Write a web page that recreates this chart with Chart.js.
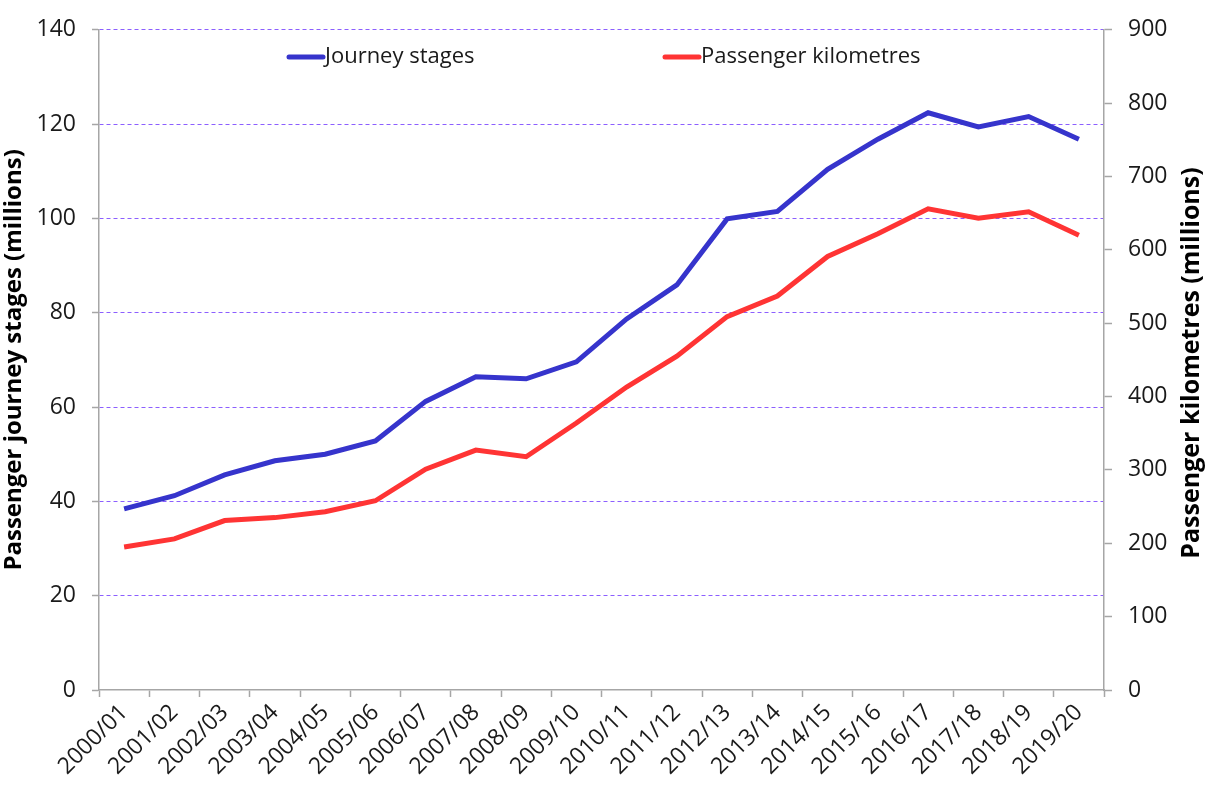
<!DOCTYPE html>
<html>
<head>
<meta charset="utf-8">
<script src="https://cdn.jsdelivr.net/npm/chart.js@4/dist/chart.umd.min.js"></script>
<style>
  html, body { margin: 0; padding: 0; background: #fff; }
  #wrap { width: 1205px; height: 785px; }
</style>
</head>
<body>
<div id="wrap"><canvas id="myChart" width="1205" height="785"></canvas></div>
<script>
const years = [
  '2000/01', '2001/02', '2002/03', '2003/04', '2004/05', '2005/06', '2006/07',
  '2007/08', '2008/09', '2009/10', '2010/11', '2011/12', '2012/13', '2013/14',
  '2014/15', '2015/16', '2016/17', '2017/18', '2018/19', '2019/20',
];

// passenger journey stages, millions (left axis)
const journeyStages = [
  38.4, 41.2, 45.6, 48.6, 50.0, 52.8, 61.2, 66.4, 66.0, 69.6,
  78.7, 85.9, 99.9, 101.5, 110.4, 116.8, 122.4, 119.4, 121.6, 116.8,
];

// passenger kilometres, millions (right axis)
const passengerKm = [
  195, 206, 231, 235, 243, 258, 301, 327, 318, 364,
  413, 455, 509, 537, 591, 622, 656, 643, 652, 620,
];

const leftTitle = 'Passenger journey stages (millions)';
const rightTitle = 'Passenger kilometres (millions)';

const fontFamily = '"Open Sans", "Noto Sans", sans-serif';
const gridPurple = 'rgb(140, 95, 255)';
const axisGrey = '#a6a6a6';
const textColor = '#1a1a1a';

// legend and right-hand title are drawn here so they sit where they should
const extras = {
  id: 'extras',
  afterDraw(chart) {
    const ctx = chart.ctx;
    ctx.save();

    // legend inside the plot, near the top
    ctx.font = '22px ' + fontFamily;
    ctx.textBaseline = 'middle';
    ctx.textAlign = 'left';
    const starts = [289, 665];
    chart.data.datasets.forEach((ds, i) => {
      const x = starts[i];
      const y = 57;
      ctx.strokeStyle = ds.borderColor;
      ctx.lineWidth = 5;
      ctx.lineCap = 'round';
      ctx.beginPath();
      ctx.moveTo(x, y);
      ctx.lineTo(x + 34, y);
      ctx.stroke();
      ctx.fillStyle = textColor;
      ctx.fillText(ds.label, x + 36, y);
    });

    // right axis title, reading bottom to top like the left one
    ctx.font = 'bold 25px ' + fontFamily;
    ctx.textAlign = 'center';
    ctx.textBaseline = 'middle';
    ctx.fillStyle = '#000';
    ctx.translate(1192, 363);
    ctx.rotate(-Math.PI / 2);
    ctx.fillText(rightTitle, 0, 0);
    ctx.restore();
  },
};

const config = {
  type: 'line',
  data: {
    labels: years,
    datasets: [
      {
        label: 'Journey stages',
        data: journeyStages,
        borderColor: 'rgb(54, 52, 204)',
        backgroundColor: 'rgb(54, 52, 204)',
        borderWidth: 5,
        pointRadius: 0,
        tension: 0,
        yAxisID: 'y',
      },
      {
        label: 'Passenger kilometres',
        data: passengerKm,
        borderColor: 'rgb(255, 52, 52)',
        backgroundColor: 'rgb(255, 52, 52)',
        borderWidth: 5,
        pointRadius: 0,
        tension: 0,
        yAxisID: 'y1',
      },
    ],
  },
  options: {
    responsive: false,
    animation: false,
    layout: { padding: { top: 18, left: 0, right: 0, bottom: 0 } },
    plugins: {
      legend: { display: false },
      tooltip: { enabled: false },
    },
    scales: {
      x: {
        offset: true,
        grid: {
          offset: true,
          drawOnChartArea: false,
          tickLength: 7,
          tickColor: axisGrey,
          tickWidth: 1.5,
        },
        border: { color: axisGrey, width: 1.5 },
        ticks: {
          minRotation: 45,
          maxRotation: 45,
          autoSkip: false,
          padding: 2,
          color: textColor,
          font: { family: fontFamily, size: 23 },
        },
        afterFit: (s) => { s.height = 95; },
      },
      y: {
        position: 'left',
        min: 0,
        max: 140,
        ticks: {
          stepSize: 20,
          padding: 16,
          color: textColor,
          font: { family: fontFamily, size: 23 },
        },
        grid: {
          color: (c) => (c.index === 0 ? 'rgba(0,0,0,0)' : gridPurple),
          lineWidth: 1,
          tickLength: 7,
          tickColor: axisGrey,
          tickWidth: 1.5,
          tickBorderDash: [],
        },
        // in v4 border.dash dashes the grid lines
        border: { color: axisGrey, width: 1.5, dash: [4, 3] },
        title: {
          display: true,
          text: leftTitle,
          color: '#000',
          padding: { top: 0, bottom: 0 },
          font: { family: fontFamily, size: 24, weight: 'bold' },
        },
        afterFit: (s) => { s.width = 99; },
      },
      y1: {
        position: 'right',
        min: 0,
        max: 900,
        ticks: {
          stepSize: 100,
          padding: 16,
          color: textColor,
          font: { family: fontFamily, size: 23 },
        },
        grid: {
          drawOnChartArea: false,
          tickLength: 8,
          tickColor: axisGrey,
          tickWidth: 1.5,
        },
        border: { color: axisGrey, width: 1.5 },
        afterFit: (s) => { s.width = 101; },
      },
    },
  },
  plugins: [extras],
};

const myChart = new Chart(document.getElementById('myChart'), config);
</script>
</body>
</html>
